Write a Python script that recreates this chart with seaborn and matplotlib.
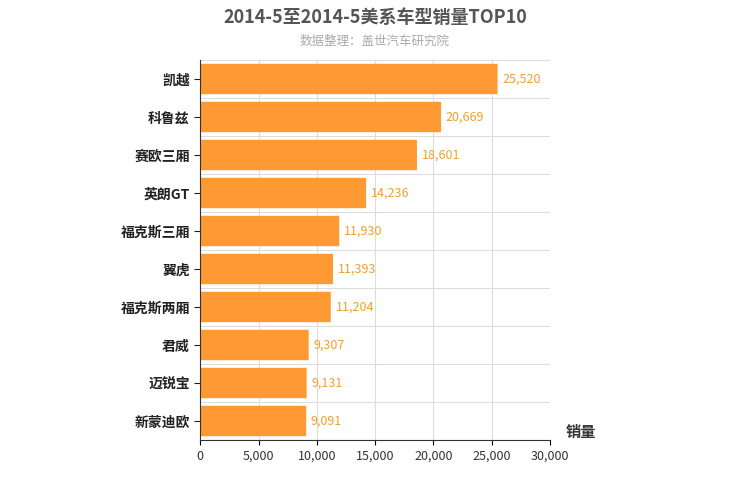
import matplotlib
matplotlib.use("Agg")
import matplotlib.pyplot as plt
from matplotlib.patches import FancyBboxPatch
import seaborn as sns
import pandas as pd

plt.rcParams["font.family"] = "Noto Sans CJK SC"

models = ["凯越", "科鲁兹", "赛欧三厢", "英朗GT", "福克斯三厢", "翼虎", "福克斯两厢", "君威", "迈锐宝", "新蒙迪欧"]
sales = [25520, 20669, 18601, 14236, 11930, 11393, 11204, 9307, 9131, 9091]
xticks = [0, 5000, 10000, 15000, 20000, 25000, 30000]

df = pd.DataFrame({"model": models, "sales": sales})

fig = plt.figure(figsize=(7.5, 5), dpi=100)
ax = fig.add_axes([0.267, 0.12, 0.466, 0.76])
sns.barplot(data=df, x="sales", y="model", color="#FF9933", width=0.8, ax=ax, zorder=2)

# swap plain bars for rounded ones
for p in list(ax.patches):
    x, y, w, h = p.get_x(), p.get_y(), p.get_width(), p.get_height()
    p.remove()
    ax.add_patch(FancyBboxPatch((x, y), w, h, boxstyle="round,pad=0,rounding_size=0.2",
                                mutation_aspect=1 / 800 * 0 + 1, fc="#FF9933", ec="none", zorder=2))

for i, v in enumerate(sales):
    ax.text(v + 400, i, f"{v:,}", va="center", ha="left", color="#F0A030", fontsize=9)

ax.set_xlim(0, 30000)
ax.set_xticks(xticks)
ax.set_xticklabels([f"{t:,}" for t in xticks], fontsize=9, color="#333333")
ax.set_ylim(9.5, -0.5)
ax.set_ylabel("")
ax.set_xlabel("")
ax.tick_params(axis="y", labelsize=10, colors="#222222", length=4)
for lbl in ax.get_yticklabels():
    lbl.set_fontweight("bold")
ax.set_yticks([i + 0.5 for i in range(-1, 10)], minor=True)
ax.grid(True, which="minor", axis="y", color="#dddddd", lw=0.8, zorder=0)
ax.grid(True, which="major", axis="x", color="#dddddd", lw=0.8, zorder=0)
ax.tick_params(axis="y", which="minor", length=0)
for s in ["top", "right"]:
    ax.spines[s].set_visible(False)
ax.spines["left"].set_color("#333333")
ax.spines["bottom"].set_color("#333333")

fig.text(0.5, 0.965, "2014-5至2014-5美系车型销量TOP10", ha="center", va="center",
         fontsize=13, fontweight="bold", color="#555555")
fig.text(0.5, 0.918, "数据整理：盖世汽车研究院", ha="center", va="center", fontsize=9, color="#aaaaaa")
fig.text(0.775, 0.12, "销量", ha="center", va="bottom", fontsize=11, fontweight="bold", color="#333333")

fig.savefig("out.png", dpi=100)
